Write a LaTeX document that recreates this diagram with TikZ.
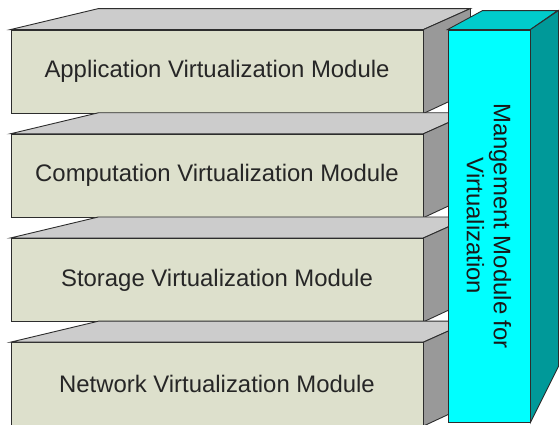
\documentclass[tikz,border=0pt]{standalone}
\usepackage{fontspec}
\setmainfont{Liberation Sans}
\usetikzlibrary{calc,positioning}
\definecolor{layerfront}{RGB}{221,224,204}
\definecolor{layertop}{RGB}{204,204,204}
\definecolor{layerside}{RGB}{153,153,153}
\definecolor{mgmtfront}{RGB}{0,255,255}
\definecolor{mgmttop}{RGB}{0,204,204}
\definecolor{mgmtside}{RGB}{0,153,153}
\definecolor{edgegray}{RGB}{45,45,45}
\tikzset{
  face/.style={draw=edgegray,line width=0.9pt,line join=miter},
  layer/.style={face,fill=layerfront,minimum width=412pt,minimum height=83pt,
    inner sep=0pt,text=black!85,font=\fontsize{23.9}{27}\selectfont},
  mgmt/.style={face,fill=mgmtfront,minimum width=392pt,minimum height=82pt,
    inner sep=0pt,align=center,text=black!90,font=\fontsize{23.9}{27}\selectfont}
}

\begin{document}
\begin{tikzpicture}[x=1pt,y=-1pt]
  \useasboundingbox (0,0) rectangle (560,424);
  % stacked layers
  \node[layer] (app) at (217,71.5) {Application Virtualization Module};
  \node[layer,below=20.3pt of app] (comp) {Computation Virtualization Module};
  \node[layer,below=20.3pt of comp] (stor) {Storage Virtualization Module};
  \node[layer,below=20.3pt of stor] (net) {Network Virtualization Module};
  \foreach \n in {app,comp,stor,net} {
    % top and right side of each layer
    \draw[face,fill=layertop] (\n.north west) -- ++(88,-21)
      -- ($(\n.north east)+(47,-21)$) -- (\n.north east) -- cycle;
    \draw[face,fill=layerside] (\n.north east) -- ++(47,-21) -- ++(0,83)
      -- (\n.south east) -- cycle;
  }
  % management column
  \node[mgmt,rotate=-90] (mod) at (489,226)
    {Mangement Module for\\Virtualization};
  \draw[face,fill=mgmttop] (mod.south west) -- ++(35,-19) -- ++(75,0)
    -- (mod.north west) -- cycle;
  \draw[face,fill=mgmtside] (mod.north west) -- ++(28,-19) -- ++(0,356)
    -- (mod.north east) -- cycle;
\end{tikzpicture}
\end{document}
